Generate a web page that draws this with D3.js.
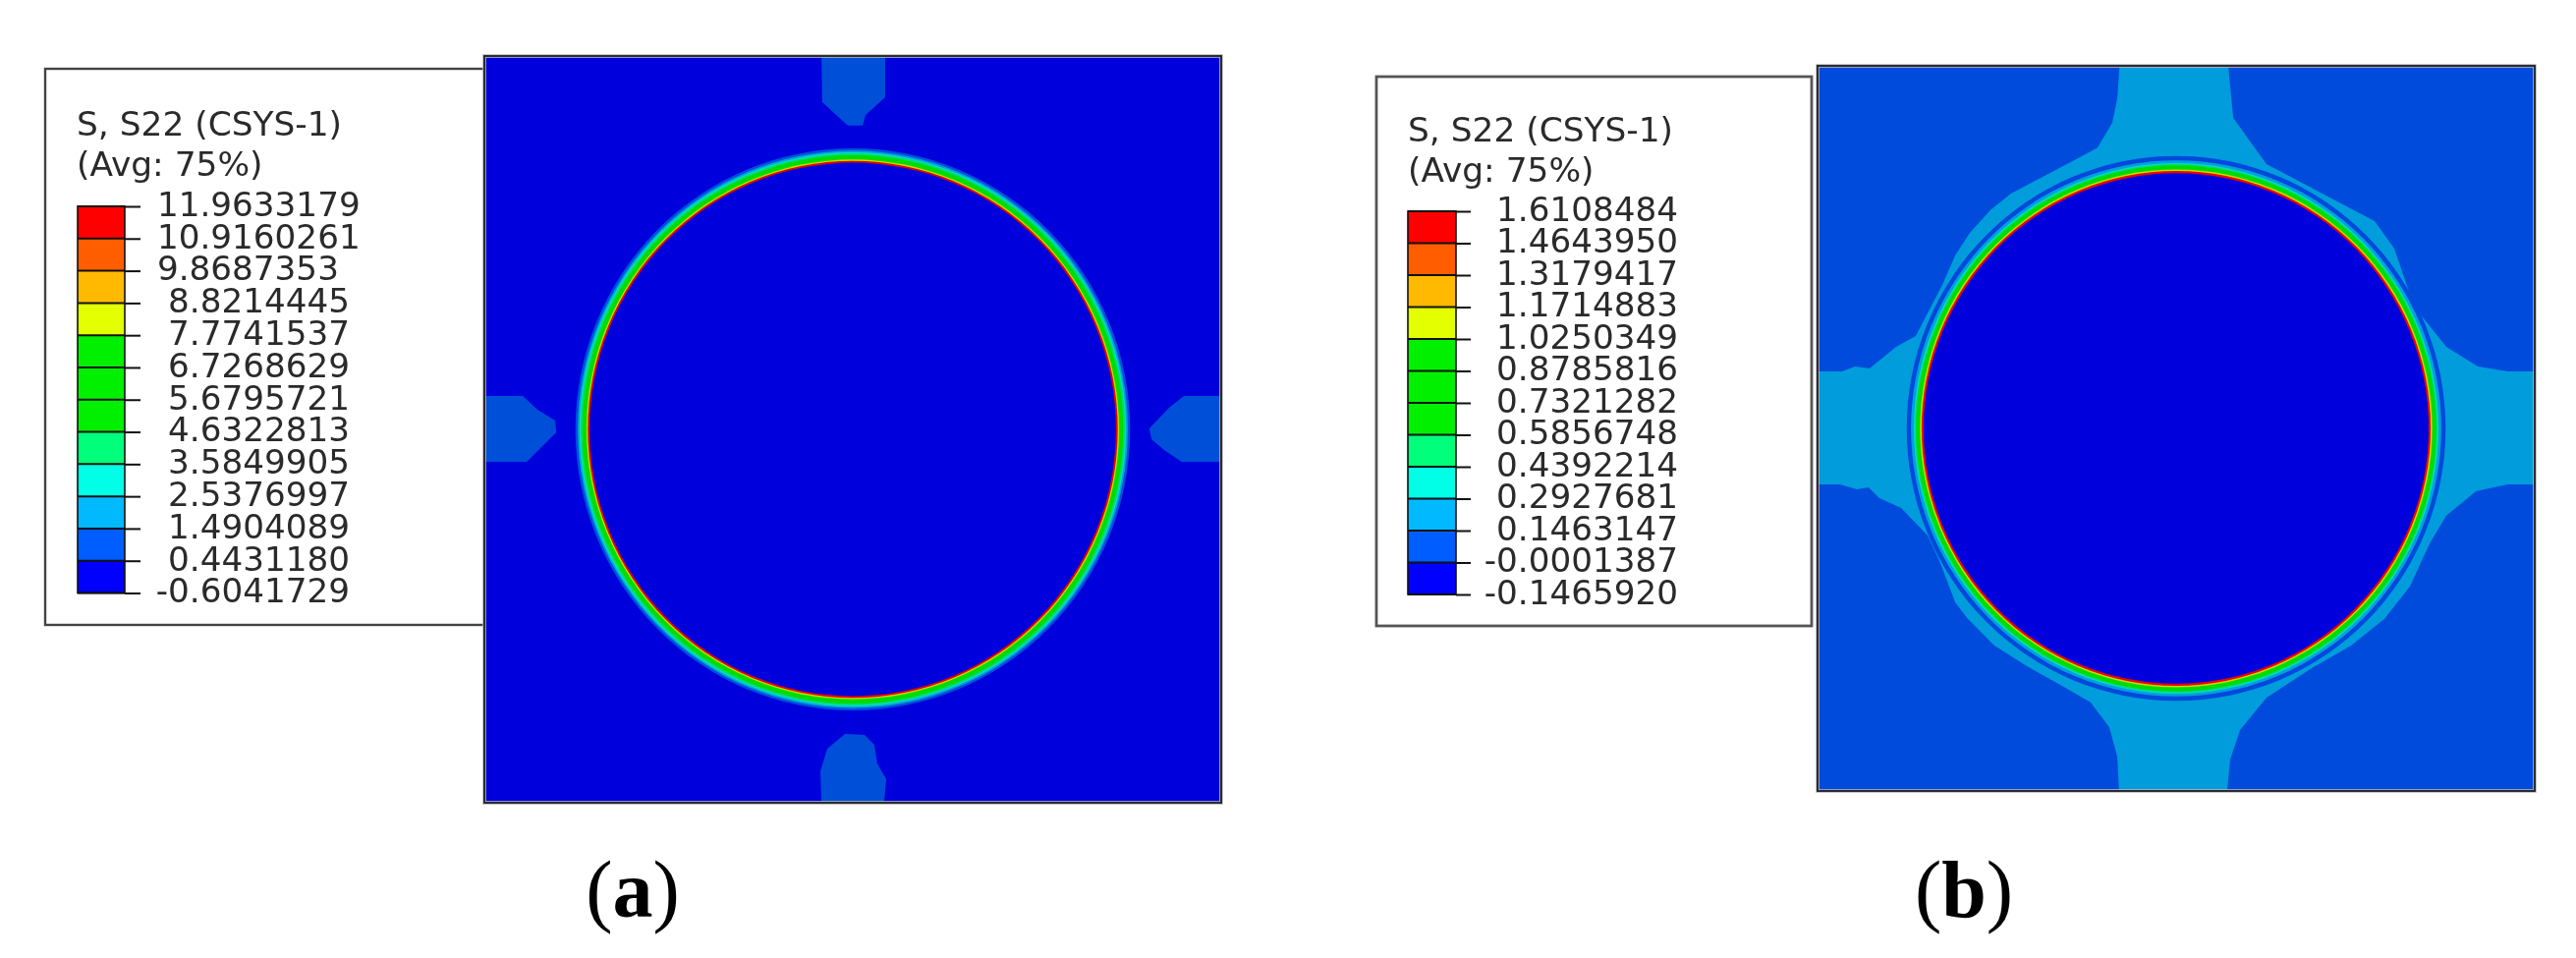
<!DOCTYPE html>
<html>
<head>
<meta charset="utf-8">
<script src="https://cdn.jsdelivr.net/npm/d3@7"></script>
<style>
html,body{margin:0;padding:0;background:#fff;overflow:hidden}
svg{display:block}
</style>
</head>
<body>
<svg id="chart" width="2622" height="975" xmlns="http://www.w3.org/2000/svg"></svg>
<script>
// ---------- data ----------
const legendTitle = ["S, S22 (CSYS-1)", "(Avg: 75%)"];
const bandColors = ["#ff0000","#ff5d00","#ffb900","#e3ff00","#00f000","#00f000","#00f000","#00ff7a","#00ffe6","#00b9ff","#005dff","#0000ff"];

const ticksA = ["11.9633179","10.9160261","9.8687353","8.8214445","7.7741537","6.7268629","5.6795721","4.6322813","3.5849905","2.5376997","1.4904089","0.4431180","-0.6041729"];
const ticksB = ["1.6108484","1.4643950","1.3179417","1.1714883","1.0250349","0.8785816","0.7321282","0.5856748","0.4392214","0.2927681","0.1463147","-0.0001387","-0.1465920"];

// Model units: the hole radius is 100.
const ringRadiiA = [105.4,104.5,103.9,103.4,102.8,101.2,100.7];
const ringColorsA = ["#0050dc","#00a0dc","#00dcc4","#00dc6c","#00dc00","#c4dc00","#e60000"];
const ringRadiiB = [106.7,105.0,103.9,103.4,103.0,101.4,100.8];
const ringColorsB = ["#0048dc","#00a0dc","#00dcc4","#00dc6c","#00dc00","#c4dc00","#f00000"];

const patchesA = [
  [[-11.9,140],[12.3,140],[12.3,124.5],[4.9,117.9],[3.7,113.9],[-1.9,113.9],[-11.6,122.7]],
  [[-140,12.5],[-125.4,12.5],[-119.8,7.4],[-113.1,3.3],[-112.7,-1.1],[-123.9,-12.2],[-140,-12.2]],
  [[112.7,0.4],[120.2,8.1],[125.8,12.5],[140,12.5],[140,-12.2],[125,-12.2],[118.3,-7.7],[113.5,-3.7]],
  [[-3,-114.2],[4.5,-114.6],[8.2,-118.3],[9.3,-125.3],[12.7,-131.2],[11.9,-140],[-11.9,-140],[-12.3,-128.2],[-9.7,-119.7]]
];
// The arms run on past the panel edge and are clipped there.
const contourB = [
  [-22.2,156],[-22.4,142],[-23.3,129.3],[-25.3,119.7],[-31.1,110],[-38.1,106.2],[-51.4,99.3],[-65.4,92],[-73.2,85.8],
  [-81.7,76.6],[-87.5,67.7],[-92.6,56.2],[-98.1,45.8],[-103.1,36.2],[-110.9,31.9],[-121.4,23.5],[-127.2,24.2],
  [-132.3,22.3],[-142,22.3],[-156,22.3],
  [-156,-21.9],[-142,-21.9],[-133.1,-21.9],[-126.5,-23.9],[-121.8,-23.1],[-117.5,-27.3],[-108.9,-31.2],[-98.4,-41.9],
  [-93.4,-52.7],[-87.5,-68.1],[-82.5,-74.6],[-72,-85],[-59.1,-93.1],[-45.9,-100.4],[-33.9,-107.3],[-26.5,-117],
  [-23.3,-128.5],[-22.6,-142],[-22.6,-156],
  [20.2,-156],[20.2,-142],[21.4,-129.7],[25.3,-118.1],[35.8,-105.4],[53.7,-93.9],[69.3,-85],[82.5,-74.6],[92.6,-61.9],
  [100.4,-45],[107,-34.2],[118.7,-24.6],[131.5,-21.9],[142,-21.9],[156,-21.9],
  [156,22.3],[142,22.3],[131.5,22.3],[119.5,24.2],[107,31.9],[97.3,43.9],[92.2,53.5],[86.4,70.4],[78.6,81.2],[56.4,92.7],
  [35.8,103.5],[22.6,121.6],[20.6,142],[20.6,156]
];

// ---------- layout ----------
const panels = [
  { id:"a", ticks: ticksA, name: "(a)", nameX: 644, nameY: 933,
    frame: {l:493, r:1243, t:57, b:817}, half: 140,
    background: "#0000dc", shapes: patchesA, shapeColor: "#0050d8", curve: d3.curveLinearClosed,
    ringRadii: ringRadiiA, ringColors: ringColorsA,
    box: {l:46, r:493, t:70, b:636}, boxWidth: 2.4, boxColor: "#444",
    bar: {l:79, r:127, t:210, b:603.5}, tickLen: 16, titleX: 78, titleY: [137.5,178.5],
    labelRight: 356, labelLeft: 160, leftAlignedCount: 3 },
  { id:"b", ticks: ticksB, name: "(b)", nameX: 1999, nameY: 933,
    frame: {l:1850, r:2580, t:67, b:805}, half: 142,
    background: "#004bdc", shapes: [contourB], shapeColor: "#009cdb", curve: d3.curveLinearClosed,
    ringRadii: ringRadiiB, ringColors: ringColorsB,
    box: {l:1401, r:1844, t:78, b:637}, boxWidth: 2.8, boxColor: "#555",
    bar: {l:1433, r:1482, t:215, b:605}, tickLen: 15, titleX: 1433, titleY: [144,185],
    labelRight: 1708, labelLeft: 0, leftAlignedCount: 0 }
];

const svg = d3.select("#chart");
const defs = svg.append("defs");
defs.append("filter").attr("id","soft").attr("x","-5%").attr("y","-5%").attr("width","110%").attr("height","110%")
  .append("feGaussianBlur").attr("stdDeviation",0.55);
defs.append("filter").attr("id","softText").attr("x","-5%").attr("y","-5%").attr("width","110%").attr("height","110%")
  .append("feGaussianBlur").attr("stdDeviation",0.45);

const fontSans = "'DejaVu Sans', Verdana, sans-serif";

panels.forEach(p => {
  const g = svg.append("g");

  // legend box
  g.append("rect")
    .attr("x",p.box.l).attr("y",p.box.t)
    .attr("width",p.box.r-p.box.l).attr("height",p.box.b-p.box.t)
    .attr("fill","#fff").attr("stroke",p.boxColor).attr("stroke-width",p.boxWidth);

  // title
  const title = g.append("g").attr("filter","url(#softText)");
  legendTitle.forEach((t,i) => {
    title.append("text").text(t)
      .attr("x",p.titleX).attr("y",p.titleY[i])
      .attr("font-family",fontSans).attr("font-size",34.4).attr("fill","#2a2a2a");
  });

  // colour bar
  const values = p.ticks.map(Number);
  const yLegend = d3.scaleLinear()
    .domain([values[values.length-1], values[0]])
    .range([p.bar.b, p.bar.t]);
  const bar = g.append("g");
  bar.selectAll("rect.band").data(bandColors).join("rect")
    .attr("class","band")
    .attr("x",p.bar.l)
    .attr("width",p.bar.r-p.bar.l)
    .attr("y",(d,i)=>yLegend(values[i]))
    .attr("height",(d,i)=>yLegend(values[i+1])-yLegend(values[i]))
    .attr("fill",d=>d);
  bar.append("rect")
    .attr("x",p.bar.l).attr("y",p.bar.t)
    .attr("width",p.bar.r-p.bar.l).attr("height",p.bar.b-p.bar.t)
    .attr("fill","none").attr("stroke","#111").attr("stroke-width",1.6);
  bar.selectAll("line.sep").data(values).join("line")
    .attr("class","sep")
    .attr("x1",p.bar.l).attr("x2",p.bar.r)
    .attr("y1",d=>yLegend(d)).attr("y2",d=>yLegend(d))
    .attr("stroke","#111").attr("stroke-width",2);

  // legend axis
  const axis = d3.axisRight(yLegend)
    .tickValues(values)
    .tickSize(p.tickLen)
    .tickFormat((d,i)=>p.ticks[i]);
  const ag = g.append("g").attr("transform",`translate(${p.bar.r},0)`).call(axis);
  ag.select(".domain").remove();
  ag.selectAll(".tick line").attr("stroke","#111").attr("stroke-width",2);
  ag.selectAll(".tick text")
    .attr("font-family",fontSans).attr("font-size",34.2).attr("fill","#2a2a2a")
    .attr("dy",null).attr("y",9.3)
    .attr("filter","url(#softText)")
    .attr("text-anchor",(d,i)=> i<p.leftAlignedCount ? "start" : "end")
    .attr("x",(d,i)=> (i<p.leftAlignedCount ? p.labelLeft : p.labelRight) - p.bar.r);

  // contour panel
  const x = d3.scaleLinear().domain([-p.half,p.half]).range([p.frame.l,p.frame.r]);
  const y = d3.scaleLinear().domain([p.half,-p.half]).range([p.frame.t,p.frame.b]);
  const line = d3.line().x(d=>x(d[0])).y(d=>y(d[1])).curve(p.curve);

  defs.append("clipPath").attr("id","clip-"+p.id).append("rect")
    .attr("x",x(-p.half)).attr("y",y(p.half))
    .attr("width",x(p.half)-x(-p.half)).attr("height",y(-p.half)-y(p.half));

  const plot = g.append("g");
  plot.append("rect")
    .attr("x",x(-p.half)).attr("y",y(p.half))
    .attr("width",x(p.half)-x(-p.half)).attr("height",y(-p.half)-y(p.half))
    .attr("fill",p.background);
  const clipped = plot.append("g").attr("clip-path",`url(#clip-${p.id})`);
  const contour = clipped.append("g").attr("filter","url(#soft)");
  contour.selectAll("path").data(p.shapes).join("path")
    .attr("d",line).attr("fill",p.shapeColor);
  contour.selectAll("ellipse.ring").data(p.ringRadii).join("ellipse")
    .attr("class","ring")
    .attr("cx",x(0)).attr("cy",y(0))
    .attr("rx",d=>x(d)-x(0)).attr("ry",d=>y(0)-y(d))
    .attr("fill",(d,i)=>p.ringColors[i]);
  contour.append("ellipse")
    .attr("cx",x(0)).attr("cy",y(0))
    .attr("rx",x(100)-x(0)).attr("ry",y(0)-y(100))
    .attr("fill","#0000dc");

  // frame
  const frame = (w,c) => plot.append("rect")
    .attr("x",x(-p.half)).attr("y",y(p.half))
    .attr("width",x(p.half)-x(-p.half)).attr("height",y(-p.half)-y(p.half))
    .attr("fill","none").attr("stroke",c).attr("stroke-width",w);
  frame(3.6,"#b8b8b4");
  frame(1.8,"#1c1c28");

  // panel name
  const nm = g.append("text")
    .attr("x",p.nameX).attr("y",p.nameY)
    .attr("text-anchor","middle")
    .attr("font-family","'Liberation Serif', 'Times New Roman', serif")
    .attr("font-size",82).attr("fill","#000");
  nm.append("tspan").text(p.name[0]);
  nm.append("tspan").attr("font-weight","bold").text(p.name[1]);
  nm.append("tspan").text(p.name[2]);
});
</script>
</body>
</html>
